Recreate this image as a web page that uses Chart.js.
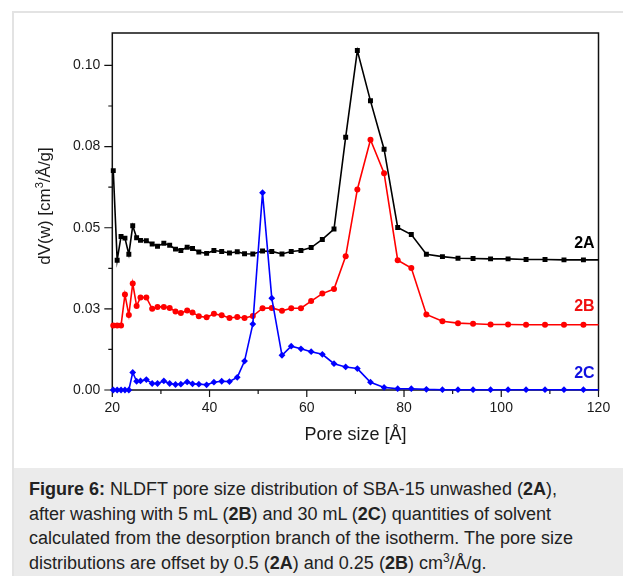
<!DOCTYPE html>
<html lang="en">
<head>
  <meta charset="UTF-8" />
  <title>Figure 6 – NLDFT pore size distribution</title>
  <script src="https://cdn.jsdelivr.net/npm/chart.js"></script>
  <style>
    html, body {
      margin: 0;
      padding: 0;
      width: 623px;
      height: 576px;
      overflow: hidden;
      background: #fff;
      font-family: Arial, "Liberation Sans", Helvetica, sans-serif;
    }
    /* white figure panel with the light grey frame */
    .panel {
      position: absolute;
      left: 12px;
      top: 11px;
      width: 700px;
      height: 700px;
      border: 2px solid #e3e3e3;
      background: #fff;
    }
    #chartBox {
      position: absolute;
      left: 0;
      top: 0;
      width: 623px;
      height: 460px;
    }
    .caption {
      position: absolute;
      left: 14px;
      top: 468px;
      width: 609px;
      height: 108px;
      background: #ebebeb;
      color: #222;
      font-size: 18px;
      line-height: 24.6px;
      padding: 9px 0 0 15px;
      box-sizing: border-box;
      white-space: nowrap;
    }
    .caption sup {
      font-size: 12px;
      line-height: 0;
      vertical-align: 7px;
    }
  </style>
</head>
<body>
  <div class="panel"></div>

  <div id="chartBox">
    <canvas id="psdChart" width="623" height="460"></canvas>
  </div>

  <div class="caption">
    <b>Figure 6:</b> NLDFT pore size distribution of SBA-15 unwashed (<b>2A</b>),<br>
    after washing with 5 mL (<b>2B</b>) and 30 mL (<b>2C</b>) quantities of solvent<br>
    calculated from the desorption branch of the isotherm. The pore size<br>
    distributions are offset by 0.5 (<b>2A</b>) and 0.25 (<b>2B</b>) cm<sup>3</sup>/Å/g.
  </div>

  <script>
    // pore width [Å], shared by all three samples
    const poreSize = [
      20.2, 21.0, 21.8, 22.6, 23.4, 24.2, 25.0, 25.8,
      27.0, 28.2, 29.3, 30.6, 31.8, 33.0, 34.1, 35.4, 36.5, 37.8, 39.4, 40.9, 42.5,
      44.1, 45.7, 47.2, 48.9, 50.9, 52.8, 54.9, 56.8, 58.8,
      60.9, 63.2, 65.6, 68.0, 70.4, 73.1, 75.9, 78.7, 81.5, 84.6,
      87.9, 91.1, 94.2, 97.8, 101.4, 105.1, 109.0, 112.9, 116.9, 120.9
    ];

    // dV(w) for unwashed sample (offset included)
    const dv2A = [
      0.0676, 0.0400, 0.0473, 0.0468, 0.0418, 0.0506, 0.0469, 0.0461,
      0.0460, 0.0450, 0.0443, 0.0452, 0.0446, 0.0434, 0.0430, 0.0440, 0.0436, 0.0425, 0.0421, 0.0430, 0.0427,
      0.0422, 0.0426, 0.0420, 0.0419, 0.0428, 0.0427, 0.0419, 0.0427, 0.0430,
      0.0439, 0.0464, 0.0496, 0.0779, 0.1046, 0.0891, 0.0742, 0.0501, 0.0479, 0.0418,
      0.0411, 0.0406, 0.0405, 0.0404, 0.0404, 0.0402, 0.0402, 0.0401, 0.0401, 0.0401
    ];

    // washed with 5 mL
    const dv2B = [
      0.0199, 0.0199, 0.0199, 0.0294, 0.0231, 0.0328, 0.0259, 0.0285,
      0.0285, 0.0250, 0.0256, 0.0256, 0.0253, 0.0242, 0.0237, 0.0245, 0.0239, 0.0227, 0.0224, 0.0235, 0.0230,
      0.0222, 0.0225, 0.0222, 0.0228, 0.0252, 0.0253, 0.0244, 0.0252, 0.0252,
      0.0274, 0.0297, 0.0311, 0.0412, 0.0618, 0.0771, 0.0668, 0.0400, 0.0376, 0.0233,
      0.0212, 0.0206, 0.0204, 0.0202, 0.0202, 0.0201, 0.0201, 0.0201, 0.0201, 0.0201
    ];

    // washed with 30 mL
    const dv2C = [
      0.0000, 0.0000, 0.0000, 0.0000, 0.0000, 0.0054, 0.0027, 0.0028,
      0.0032, 0.0020, 0.0020, 0.0028, 0.0020, 0.0017, 0.0018, 0.0025, 0.0019, 0.0018, 0.0016, 0.0024, 0.0027,
      0.0026, 0.0039, 0.0089, 0.0203, 0.0608, 0.0283, 0.0107, 0.0135, 0.0127,
      0.0118, 0.0110, 0.0081, 0.0071, 0.0066, 0.0024, 0.0008, 0.0004, 0.0004, 0.0002,
      0.0001, 0.0001, 0.0001, 0.0001, 0.0001, 0.0001, 0.0001, 0.0001, 0.0001, 0.0001
    ];

    const seriesNames = ['2A', '2B', '2C'];

    // axis ticks
    const xTickValues = [20, 40, 60, 80, 100, 120];
    const xMinorTicks = [30, 50, 70, 90, 110];
    const yTickValues = [0, 0.025, 0.05, 0.075, 0.10];
    const yTickLabels = ['0.00', '0.03', '0.05', '0.08', '0.10'];
    const yMinorTicks = [0.0125, 0.0375, 0.0625, 0.0875];

    const FONT = 'Arial, "Liberation Sans", Helvetica, sans-serif';
    Chart.defaults.font.family = FONT;

    function toPoints(ys) {
      return poreSize.map((x, i) => ({ x: x, y: ys[i] }));
    }

    // box around the plot + outward major/minor tick marks
    const framePlugin = {
      id: 'frame',
      beforeDatasetsDraw(chart) {
        const { ctx, chartArea: a, scales } = chart;
        ctx.save();
        ctx.strokeStyle = '#111';
        ctx.lineWidth = 1.5;
        ctx.strokeRect(a.left, a.top, a.right - a.left, a.bottom - a.top);
        ctx.lineWidth = 1.2;
        ctx.beginPath();
        xTickValues.forEach(v => {
          const px = scales.x.getPixelForValue(v);
          ctx.moveTo(px, a.bottom); ctx.lineTo(px, a.bottom + 7);
        });
        xMinorTicks.forEach(v => {
          const px = scales.x.getPixelForValue(v);
          ctx.moveTo(px, a.bottom); ctx.lineTo(px, a.bottom + 4);
        });
        yTickValues.forEach(v => {
          const py = scales.y.getPixelForValue(v);
          ctx.moveTo(a.left, py); ctx.lineTo(a.left - 8, py);
        });
        yMinorTicks.forEach(v => {
          const py = scales.y.getPixelForValue(v);
          ctx.moveTo(a.left, py); ctx.lineTo(a.left - 4, py);
        });
        ctx.stroke();
        ctx.restore();
      },
      // rotated y title with a real superscript "3"
      afterDraw(chart) {
        const ctx = chart.ctx;
        const parts = [
          { t: 'dV(w) [cm', size: 17, rise: 0 },
          { t: '3', size: 11, rise: 7 },
          { t: '/Å/g]', size: 17, rise: 0 }
        ];
        ctx.save();
        ctx.fillStyle = '#1a1a1a';
        ctx.textBaseline = 'alphabetic';
        ctx.textAlign = 'left';
        let total = 0;
        parts.forEach(p => {
          ctx.font = p.size + 'px ' + FONT;
          p.w = ctx.measureText(p.t).width;
          total += p.w;
        });
        ctx.translate(50, 206);
        ctx.rotate(-Math.PI / 2);
        let x = -total / 2;
        parts.forEach(p => {
          ctx.font = p.size + 'px ' + FONT;
          ctx.fillText(p.t, x, -p.rise);
          x += p.w;
        });
        ctx.restore();
      }
    };

    // series names written inside the plot, right side
    const seriesTags = [
      { text: seriesNames[0], x: 119.2, y: 0.0452, color: '#000' },
      { text: seriesNames[1], x: 119.2, y: 0.0256, color: '#f01010' },
      { text: seriesNames[2], x: 119.2, y: 0.0051, color: '#1010e0' }
    ];
    const tagPlugin = {
      id: 'tags',
      afterDatasetsDraw(chart) {
        const { ctx, scales } = chart;
        ctx.save();
        ctx.font = 'bold 16px ' + FONT;
        ctx.textAlign = 'right';
        ctx.textBaseline = 'middle';
        seriesTags.forEach(t => {
          ctx.fillStyle = t.color;
          ctx.fillText(t.text, scales.x.getPixelForValue(t.x), scales.y.getPixelForValue(t.y));
        });
        ctx.restore();
      }
    };

    const lineStyle = {
      borderWidth: 1.6,
      tension: 0,
      pointBorderWidth: 0,
      pointHoverRadius: 3,
      clip: { left: false, top: false, right: 0, bottom: false }
    };

    new Chart(document.getElementById('psdChart'), {
      type: 'line',
      data: {
        datasets: [
          Object.assign({
            label: seriesNames[2],
            data: toPoints(dv2C),
            borderColor: '#0000ff',
            backgroundColor: '#0000ff',
            pointStyle: 'rectRot',
            pointRadius: 3.4,
            order: 0
          }, lineStyle),
          Object.assign({
            label: seriesNames[1],
            data: toPoints(dv2B),
            borderColor: '#ff0000',
            backgroundColor: '#ff0000',
            pointStyle: 'circle',
            pointRadius: 3.0,
            order: 1
          }, lineStyle),
          Object.assign({
            label: seriesNames[0],
            data: toPoints(dv2A),
            borderColor: '#000000',
            backgroundColor: '#000000',
            pointStyle: 'rect',
            pointRadius: 3.5,
            order: 2
          }, lineStyle)
        ]
      },
      options: {
        responsive: false,
        animation: false,
        layout: { padding: { left: 28, top: 33, right: 24.5, bottom: 10 } },
        plugins: {
          legend: { display: false },
          tooltip: { enabled: false }
        },
        scales: {
          x: {
            type: 'linear',
            min: 20,
            max: 120,
            grid: { display: false, drawTicks: false },
            border: { display: false },
            afterBuildTicks: s => { s.ticks = xTickValues.map(v => ({ value: v })); },
            afterFit: s => { s.height = 60; },
            ticks: { color: '#1a1a1a', font: { size: 14 }, padding: 10, maxRotation: 0 },
            title: {
              display: true,
              text: 'Pore size [Å]',
              color: '#1a1a1a',
              font: { size: 18 },
              padding: { top: 0, bottom: 4 }
            }
          },
          y: {
            type: 'linear',
            min: 0,
            max: 0.11,
            grid: { display: false, drawTicks: false },
            border: { display: false },
            afterBuildTicks: s => { s.ticks = yTickValues.map(v => ({ value: v })); },
            afterFit: s => { s.width = 112.3 - 28; },
            ticks: {
              color: '#1a1a1a',
              font: { size: 14 },
              padding: 12,
              callback: (v, i) => yTickLabels[i]
            },
            title: { display: false }
          }
        }
      },
      plugins: [framePlugin, tagPlugin]
    });
  </script>
</body>
</html>
